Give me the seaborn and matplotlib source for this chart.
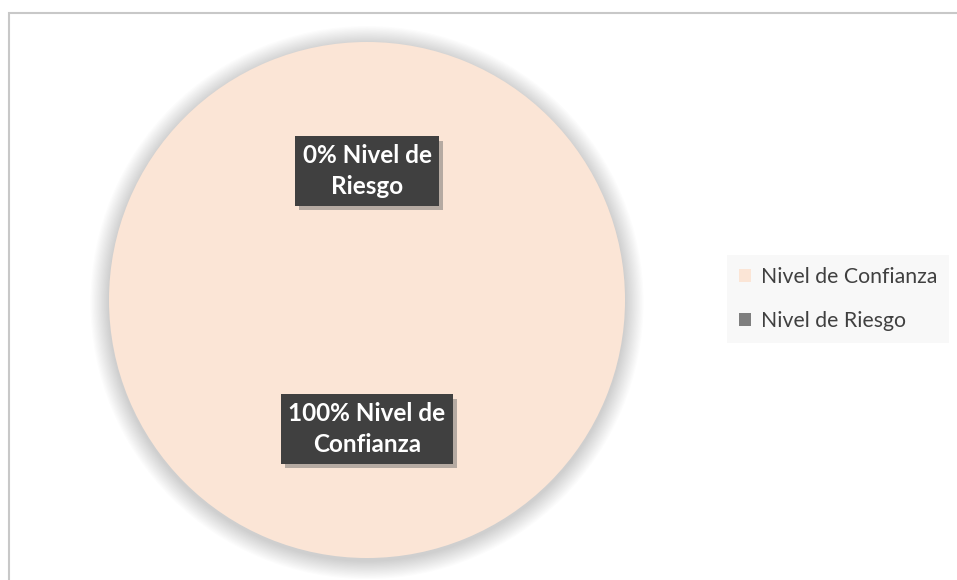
import matplotlib.pyplot as plt
import matplotlib.patheffects as pe
from matplotlib.patches import Rectangle, Circle
import seaborn as sns

# Data
categories = ['Nivel de Confianza', 'Nivel de Riesgo']
values = [100, 0]
colors = ['#FBE5D6', '#7F7F7F']

sns.set_theme(style="white")
plt.rcParams['font.family'] = ['Lato', 'DejaVu Sans']

fig = plt.figure(figsize=(9.57, 5.8), dpi=100)
ax = fig.add_axes([0.1139, 0.0379, 0.5392, 0.8897])

# soft shadow around the pie
for i in range(16):
    ax.add_patch(Circle((0, -0.01), 1.0 + 0.0045 * (i + 1), color='#000000',
                        alpha=0.01, lw=0, zorder=0, clip_on=False))

wedges, texts, autotexts = ax.pie(values, colors=colors, startangle=90,
                                  counterclock=False, autopct='%1.0f%%',
                                  pctdistance=0.5, radius=1.0,
                                  wedgeprops=dict(linewidth=0))

for t, name, v in zip(autotexts, categories, values):
    label = f"{v:.0f}% " + name.replace('Nivel de ', 'Nivel de\n')
    t.set_text(label)
    t.set_color('white')
    t.set_fontweight('bold')
    t.set_fontsize(17.5)
    t.set_linespacing(1.45)
    t.set_bbox(dict(boxstyle='square,pad=0.3', facecolor='#404040',
                    edgecolor='none', linewidth=0))
    t.get_bbox_patch().set_path_effects([
        pe.SimplePatchShadow(offset=(3, -3), shadow_rgbFace='#707070', alpha=0.5),
        pe.Normal()])

ax.set_xlim(-1, 1)
ax.set_ylim(-1, 1)
ax.set_aspect('equal')
ax.axis('off')

# chart frame
fig.patches.append(Rectangle((8.5 / 957, -0.05), 1.0, 0.05 + (580 - 12.5) / 580,
                             transform=fig.transFigure, fill=False,
                             edgecolor='#C8C8C8', linewidth=1.5))

leg = fig.legend(wedges, categories, loc='center left',
                 bbox_to_anchor=(727 / 957, 1 - 299 / 580), frameon=True,
                 facecolor='#F7F7F7', edgecolor='none', fancybox=False,
                 fontsize=15.3, labelspacing=1.15, handlelength=0.6,
                 handleheight=0.6, handletextpad=0.45, borderpad=0.55,
                 borderaxespad=0)
for txt in leg.get_texts():
    txt.set_color('#404040')

fig.savefig('out.png', dpi=100)
